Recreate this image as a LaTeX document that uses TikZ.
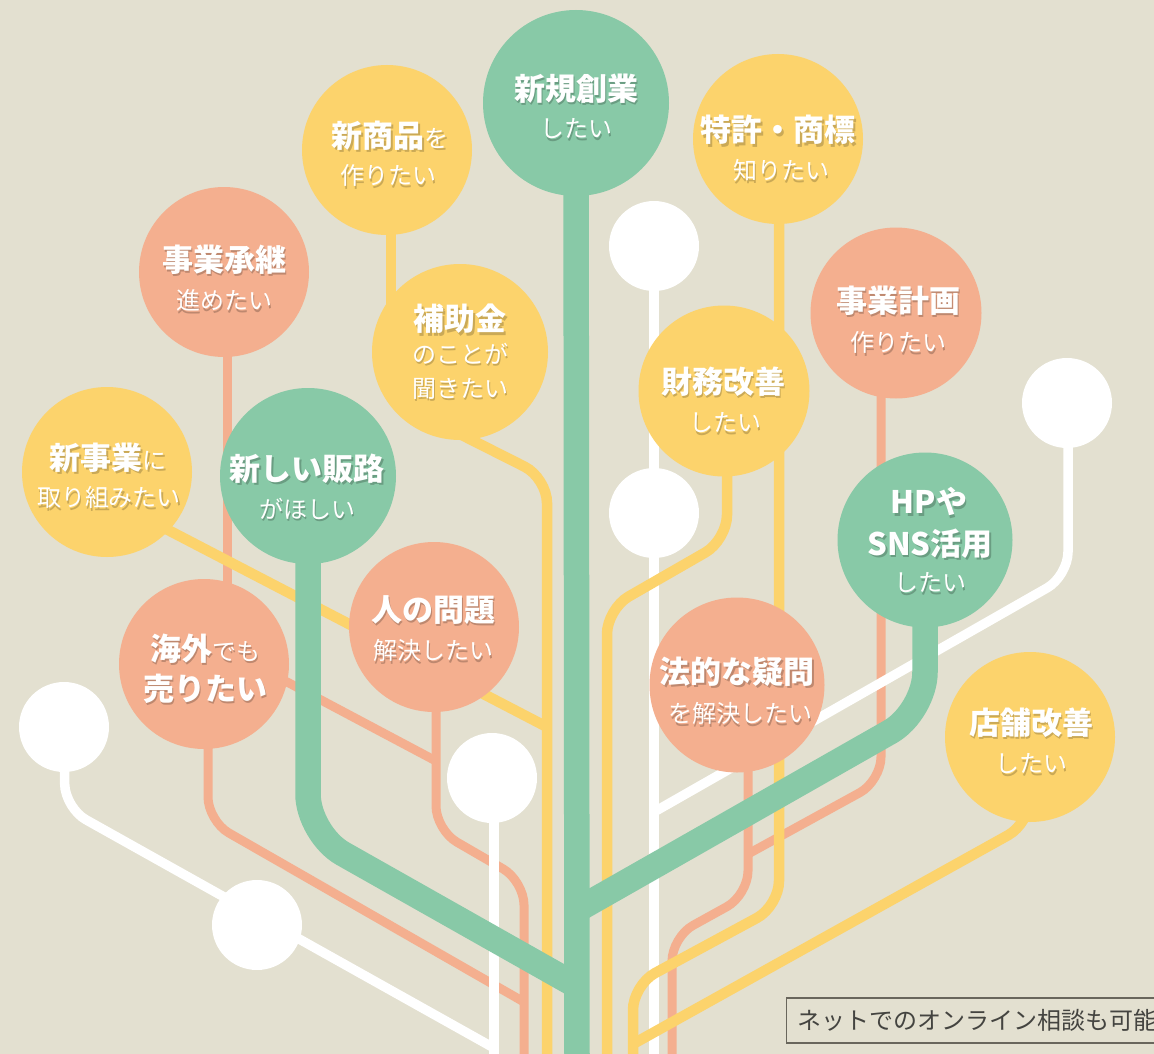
\documentclass[tikz,border=0pt]{standalone}
\usepackage{fontspec}
\setmainfont{Noto Sans CJK JP}
\definecolor{bgc}{RGB}{227,224,208}
\definecolor{grn}{RGB}{136,201,167}
\definecolor{yel}{RGB}{252,211,108}
\definecolor{sal}{RGB}{244,175,143}
\definecolor{boxc}{RGB}{105,102,92}
\definecolor{dtext}{RGB}{68,68,64}
\colorlet{grnS}{grn!78!black}
\colorlet{yelS}{yel!80!black}
\colorlet{salS}{sal!78!black}
\pgfdeclarelayer{bglayer}
\pgfdeclarelayer{lines}
\pgfsetlayers{bglayer,lines,main}
\tikzset{
  bub/.style={circle, inner sep=0pt, outer sep=0pt, draw=none},
  wbub/.style={bub, fill=white, minimum size=90pt},
  txt/.style={inner sep=0pt, text=white, font=\fontsize{24}{28}\selectfont},
  sline/.style={draw=sal, line width=9pt, rounded corners=24pt},
  wline/.style={draw=white, line width=9.5pt, rounded corners=24pt},
  yline/.style={draw=yel, line width=10.5pt, rounded corners=25pt},
  gline/.style={draw=grn, line width=25.5pt, rounded corners=40pt},
}
\newcommand\B[1]{{\fontsize{31}{36}\selectfont\bfseries #1}}
\newcommand\R[1]{{\fontsize{24}{28}\selectfont #1}}
% name, x, y, shadow colour, content
\newcommand\tl[5]{\node[txt] (#1) at (#2,#3)
  {\rlap{\hspace{1.8pt}\raisebox{-2.4pt}{\color{#4}#5}}#5};}
\begin{document}
\begin{tikzpicture}[x=1pt,y=-1pt]
\useasboundingbox (0,0) rectangle (1154,1054);
\begin{pgfonlayer}{bglayer}
\fill[bgc] (0,0) rectangle (1154,1054);
\end{pgfonlayer}

% coloured bubbles
\node[bub, fill=grn, minimum size=186pt] (sougyou) at (576,103) {};
\node[bub, fill=yel, minimum size=170pt] (shohin) at (387,150) {};
\node[bub, fill=yel, minimum size=170pt] (tokkyo) at (778,139) {};
\node[bub, fill=sal, minimum size=170pt] (shoukei) at (224,272) {};
\node[bub, fill=yel, minimum size=176pt] (hojo) at (460,352) {};
\node[bub, fill=sal, minimum size=171pt] (keikaku) at (896,313) {};
\node[bub, fill=yel, minimum size=171pt] (zaimu) at (724,391) {};
\node[bub, fill=yel, minimum size=170pt] (shinjigyo) at (107,472) {};
\node[bub, fill=grn, minimum size=176pt] (hanro) at (308,476) {};
\node[bub, fill=grn, minimum size=175pt] (hp) at (925,540) {};
\node[bub, fill=sal, minimum size=170pt] (hito) at (434,627) {};
\node[bub, fill=sal, minimum size=170pt] (kaigai) at (204,664) {};
\node[bub, fill=sal, minimum size=175pt] (houteki) at (737,685) {};
\node[bub, fill=yel, minimum size=170pt] (tenpo) at (1030,737) {};
% white bubbles
\node[wbub] (w1) at (654,246) {};
\node[wbub] (w2) at (1067,403) {};
\node[wbub] (w3) at (654,513) {};
\node[wbub] (w4) at (64,727) {};
\node[wbub] (w5) at (492,778) {};
\node[wbub] (w6) at (257,925) {};

% coordinates for bends and free ends
\coordinate (s1a) at (227,300); \coordinate (s1b) at (227,640);
\coordinate (s2a) at (208,664); \coordinate (s2b) at (208,821); \coordinate (s2c) at (524,1002);
\coordinate (s3a) at (436,627); \coordinate (s3b) at (436,830); \coordinate (s3c) at (524,881); \coordinate (s3d) at (524,1060);
\coordinate (s4a) at (240,657); \coordinate (s4b) at (436,761);
\coordinate (s5a) at (881,313); \coordinate (s5b) at (881,781); \coordinate (s5c) at (748,854);
\coordinate (s6a) at (748,685); \coordinate (s6b) at (748,895); \coordinate (s6c) at (672,937); \coordinate (s6d) at (672,1060);
\coordinate (wa1) at (654,1060);
\coordinate (wb1) at (1068,403); \coordinate (wb2) at (1068,576); \coordinate (wb3) at (654,812);
\coordinate (wc0) at (494,778); \coordinate (wc1) at (494,1060);
\coordinate (wd1) at (65,808); \coordinate (wd2) at (494,1048);
\coordinate (ya0) at (440,424); \coordinate (ya1) at (547,478); \coordinate (ya2) at (547,1060);
\coordinate (yb0) at (120,505); \coordinate (yb1) at (547,727);
\coordinate (yc0) at (727,392); \coordinate (yc1) at (727,540); \coordinate (yc2) at (607,609); \coordinate (yc3) at (607,1060);
\coordinate (yd0) at (779,139); \coordinate (yd1) at (779,906); \coordinate (yd2) at (633,985); \coordinate (yd3) at (633,1060);
\coordinate (ye1) at (1030,823); \coordinate (ye2) at (633,1044);
\coordinate (yf0) at (391,150); \coordinate (yf1) at (391,352);
\coordinate (gt1) at (577,1060);
\coordinate (gl1) at (308,834); \coordinate (gl2) at (577,986);
\coordinate (gr1) at (925,712); \coordinate (gr2) at (577,910);

\begin{pgfonlayer}{lines}
% salmon
\draw[sline] (s1a) -- (s1b);
\draw[sline] (s2a) -- (s2b) -- (s2c);
\draw[sline] (s3a) -- (s3b) -- (s3c) -- (s3d);
\draw[sline] (s4a) -- (s4b);
\draw[sline] (s5a) -- (s5b) -- (s5c);
\draw[sline] (s6a) -- (s6b) -- (s6c) -- (s6d);
% white
\draw[wline] (w1.center) -- (wa1);
\draw[wline] (wb1) -- (wb2) -- (wb3);
\draw[wline] (wc0) -- (wc1);
\draw[wline] (w4.center) -- (wd1) -- (wd2);
% yellow
\draw[yline] (ya0) -- (ya1) -- (ya2);
\draw[yline] (yb0) -- (yb1);
\draw[yline] (yc0) -- (yc1) -- (yc2) -- (yc3);
\draw[yline] (yd0) -- (yd1) -- (yd2) -- (yd3);
\draw[yline] (tenpo.center) -- (ye1) -- (ye2);
\draw[yline] (yf0) -- (yf1);
% green
\draw[gline] (sougyou.center) -- (gt1);
\draw[gline] (hanro.center) -- (gl1) -- (gl2);
\draw[gline] (hp.center) -- (gr1) -- (gr2);
\end{pgfonlayer}

% texts
\tl{t1}{576}{90}{grnS}{\B{新規創業}}
\tl{t2}{576}{130}{grnS}{\R{したい}}
\tl{t3}{390}{137}{yelS}{\B{新商品}\R{を}}
\tl{t4}{388}{177}{yelS}{\R{作りたい}}
\tl{t5}{778}{131}{yelS}{\B{特許・商標}}
\tl{t6}{781}{172}{yelS}{\R{知りたい}}
\tl{t7}{224}{261}{salS}{\B{事業承継}}
\tl{t8}{224}{302}{salS}{\R{進めたい}}
\tl{t9}{460}{320}{yelS}{\B{補助金}}
\tl{t10}{460}{355}{yelS}{\R{のことが}}
\tl{t11}{460}{390}{yelS}{\R{聞きたい}}
\tl{t12}{898}{302}{salS}{\B{事業計画}}
\tl{t13}{898}{344}{salS}{\R{作りたい}}
\tl{t14}{723}{383}{yelS}{\B{財務改善}}
\tl{t15}{725}{424}{yelS}{\R{したい}}
\tl{t16}{108}{459}{yelS}{\B{新事業}\R{に}}
\tl{t17}{109}{499}{yelS}{\R{取り組みたい}}
\tl{t18}{307}{470}{grnS}{\B{新しい販路}}
\tl{t19}{307}{510}{grnS}{\R{がほしい}}
\tl{t20}{929}{503}{grnS}{\B{HPや}}
\tl{t21}{930}{545}{grnS}{\B{SNS活用}}
\tl{t22}{930}{584}{grnS}{\R{したい}}
\tl{t23}{433}{611}{salS}{\B{人の問題}}
\tl{t24}{433}{652}{salS}{\R{解決したい}}
\tl{t25}{205}{650}{salS}{\B{海外}\R{でも}}
\tl{t26}{205}{690}{salS}{\B{売りたい}}
\tl{t27}{737}{673}{salS}{\B{法的な疑問}}
\tl{t28}{740}{715}{salS}{\R{を解決したい}}
\tl{t29}{1031}{724}{yelS}{\B{店舗改善}}
\tl{t30}{1031}{765}{yelS}{\R{したい}}

\node[draw=boxc, line width=1.3pt, fill=bgc, anchor=west, minimum height=45pt,
      inner xsep=11pt, text=dtext, font=\fontsize{24}{28}\selectfont] (online)
      at (786,1020.5) {ネットでのオンライン相談も可能};
\end{tikzpicture}
\end{document}
